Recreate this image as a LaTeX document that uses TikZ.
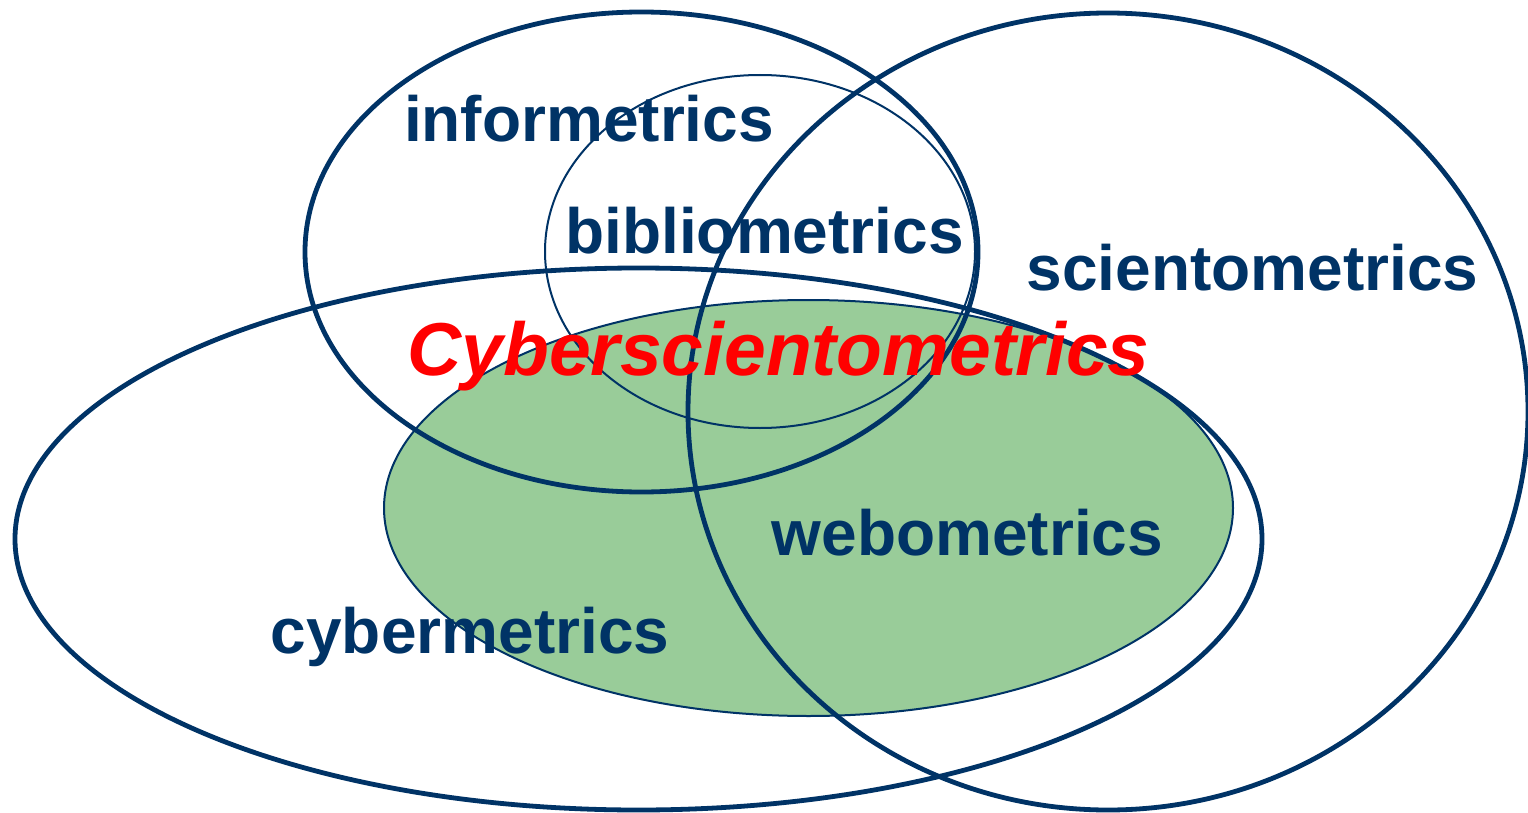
\documentclass[tikz,border=0pt]{standalone}
\usepackage{fontspec}
\setmainfont{Liberation Sans}
\definecolor{navy}{HTML}{003366}
\definecolor{webgreen}{HTML}{99CC99}
\definecolor{cyred}{HTML}{FF0000}
\begin{document}
\begin{tikzpicture}[x=1pt,y=-1pt,
  thickring/.style={draw=navy,line width=4.8pt},
  thinring/.style={draw=navy,line width=2pt},
  lbl/.style={inner sep=0pt,anchor=base,text=navy,font=\fontsize{64}{70}\selectfont\bfseries},
  biglbl/.style={inner sep=0pt,anchor=base,text=cyred,font=\fontsize{75}{82}\selectfont\bfseries\itshape}]
\useasboundingbox (0,0) rectangle (1528,813);
% webometrics (filled)
\draw[thinring,fill=webgreen] (808.5,508) ellipse [x radius=424.5pt, y radius=208pt];
% bibliometrics
\draw[thinring] (760,251.5) ellipse [x radius=215pt, y radius=176.5pt];
% informetrics
\draw[thickring] (641.5,252) ellipse [x radius=336.5pt, y radius=240pt];
% scientometrics
\draw[thickring] (1108,411.5) ellipse [x radius=420pt, y radius=398.5pt];
% cybermetrics
\draw[thickring] (638.5,539) ellipse [x radius=623.5pt, y radius=271pt];
% labels
\node[lbl] (inf) at (589,142) {informetrics};
\node[lbl] (bib) at (764.5,253) {bibliometrics};
\node[lbl] (sci) at (1252.5,290) {scientometrics};
\node[lbl] (web) at (967.5,555) {webometrics};
\node[lbl] (cyb) at (470,653) {cybermetrics};
\node[biglbl] (cys) at (778.5,375) {Cyberscientometrics};
\end{tikzpicture}
\end{document}
